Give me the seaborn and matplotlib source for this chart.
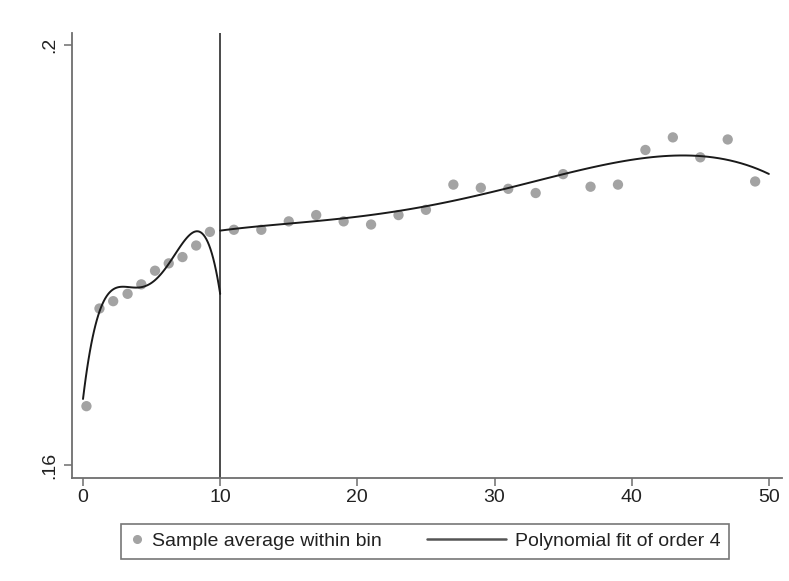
"""
Binned scatter with order-4 polynomial fits on each side of the cutoff
"""

import numpy as np
import matplotlib
matplotlib.use('Agg')
import matplotlib.pyplot as plt
import seaborn as sns
from matplotlib.lines import Line2D
from matplotlib.legend_handler import HandlerLine2D

# bin averages, left of the cutoff
bin_x_left = [0.25, 1.2, 2.2, 3.25, 4.25, 5.25, 6.25, 7.25, 8.25, 9.25]
bin_y_left = [.1656, .1749, .1756, .1763, .1772, .1785, .1792, .1798, .1809, .1822]

# bin averages, right of the cutoff
bin_x_right = [11, 13, 15, 17, 19, 21, 23, 25, 27, 29,
               31, 33, 35, 37, 39, 41, 43, 45, 47, 49]
bin_y_right = [.1824, .1824, .1832, .1838, .1832, .1829, .1838, .1843, .1867, .1864,
               .1863, .1859, .1877, .1865, .1867, .1900, .1912, .1893, .1910, .1870]

# fitted curve
fit_x_left = [0, 0.75, 1.2, 2.0, 2.9, 4.15, 5.4, 6.35, 7.3, 8.2, 9.0, 9.7, 10]
fit_y_left = [.1665, .1719, .1748, .1767, .1770, .1769, .1778, .1792, .1813, .1822,
              .1814, .1789, .1760]
fit_x_right = [10, 15, 19, 23, 27, 29, 31, 35, 39, 41, 43, 45, 47, 50]
fit_y_right = [.1823, .1830, .1836, .1841, .1851, .1857, .1864, .1878, .1888, .1893,
               .1895, .1894, .1889, .1878]

cutoff = 10
x_ticks = [0, 10, 20, 30, 40, 50]
y_ticks = [.16, .2]
y_ticklabels = ['.16', '.2']


class LongLineHandler(HandlerLine2D):
    """Line key that reaches further left than the legend handle box."""
    def __init__(self, extra, **kw):
        super().__init__(**kw)
        self.extra = extra

    def get_xdata(self, legend, xdescent, ydescent, width, height, fontsize):
        xdata, xm = super().get_xdata(legend, xdescent, ydescent, width, height, fontsize)
        return np.array([-xdescent - self.extra * fontsize, -xdescent + width]), xm


sns.set_style('white')
plt.rcParams['font.family'] = ['Liberation Sans', 'DejaVu Sans']

fig = plt.figure(figsize=(7.89, 5.81), dpi=100)
ax = fig.add_axes([0.0913, 0.1773, 0.8997, 0.7659])

dot_color = '#a3a3a3'
axis_color = '#6e6e6e'

sns.scatterplot(x=bin_x_left + bin_x_right, y=bin_y_left + bin_y_right, ax=ax,
                color=dot_color, s=55, edgecolor='none', zorder=3)

sns.regplot(x=fit_x_left, y=fit_y_left, order=4, ci=None, scatter=False, truncate=True,
            ax=ax, line_kws={'color': '#1a1a1a', 'lw': 1.4, 'zorder': 4})
sns.regplot(x=fit_x_right, y=fit_y_right, order=4, ci=None, scatter=False, truncate=True,
            ax=ax, line_kws={'color': '#1a1a1a', 'lw': 1.4, 'zorder': 4})

ax.axvline(cutoff, color='#4a4a4a', lw=1.4, zorder=2)

ax.set_xlim(-0.8, 50.95)
ax.set_ylim(.15876, .20114)
ax.set_xticks(x_ticks)
ax.set_xticklabels([str(t) for t in x_ticks], fontsize=14)
ax.set_yticks(y_ticks)
ax.set_yticklabels(y_ticklabels, fontsize=14, rotation=90, va='center')
ax.set_xlabel('')
ax.set_ylabel('')

for side in ['top', 'right']:
    ax.spines[side].set_visible(False)
for side in ['left', 'bottom']:
    ax.spines[side].set_color(axis_color)
    ax.spines[side].set_linewidth(1.3)
ax.tick_params(axis='both', which='major', direction='out', length=6, width=1.1,
               color=axis_color, labelcolor='#222222', left=True, bottom=True)
ax.tick_params(axis='x', pad=2)
ax.tick_params(axis='y', pad=4)

# legend under the plot
dot_key = Line2D([], [], marker='o', linestyle='none', color=dot_color, markersize=5.5)
line_key = Line2D([], [], color='#555555', lw=1.8)
leg = fig.legend([dot_key, line_key],
                 ['Sample average within bin', 'Polynomial fit of order 4'],
                 handler_map={line_key: LongLineHandler(3.4)},
                 loc='center', bbox_to_anchor=(0.539, 0.068), ncol=2,
                 fontsize=14, frameon=True, fancybox=False,
                 handlelength=0.7, handletextpad=0.45, columnspacing=5.7,
                 borderpad=0.45, borderaxespad=0)
leg.get_frame().set_edgecolor('#555555')
leg.get_frame().set_linewidth(1.2)
for txt in leg.get_texts():
    txt.set_color('#222222')

plt.savefig('out.png', dpi=100)
